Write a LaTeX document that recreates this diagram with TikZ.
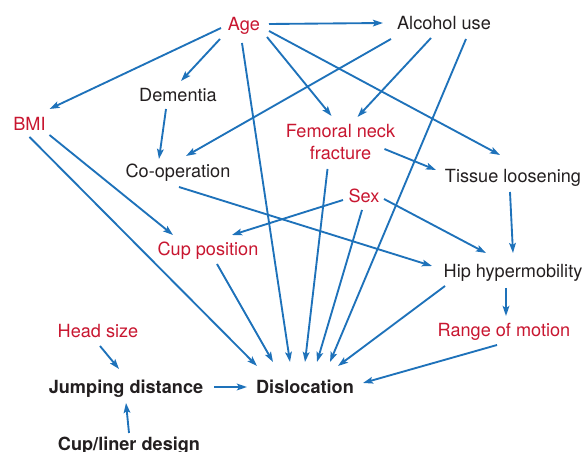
\documentclass[tikz,border=0pt]{standalone}
\usepackage{fontspec}
\setmainfont{TeX Gyre Heros}
\usetikzlibrary{arrows.meta}
\definecolor{dred}{RGB}{200,22,48}
\definecolor{dblue}{RGB}{30,114,186}
\definecolor{dtext}{RGB}{35,31,32}
\begin{document}
\begin{tikzpicture}[x=0.75pt,y=-0.75pt,
  lbl/.style={inner sep=0pt,text height=1em,text depth=0pt,text=dtext,font=\fontsize{13.6}{16.5}\selectfont},
  rlbl/.style={lbl,text=dred},
  blbl/.style={lbl,font=\fontsize{13.6}{16.5}\selectfont\bfseries},
  arr/.style={draw=dblue,line width=1.4pt,-{Stealth[length=7.5pt,width=5pt,inset=1.5pt]}}]
\useasboundingbox (0,0) rectangle (587,452);
\node[rlbl] (age) at (244,24) {Age};
\node[lbl] (alc) at (444,23) {Alcohol use};
\node[lbl] (dem) at (178,95) {Dementia};
\node[rlbl] (bmi) at (29.5,124) {BMI};
\node[inner sep=0pt,text=dred,align=center,font=\fontsize{13.6}{16.5}\selectfont] (fnf) at (340.5,142.5) {Femoral neck\\fracture};
\node[lbl] (coop) at (178,171) {Co-operation};
\node[lbl] (tis) at (513,176) {Tissue loosening};
\node[rlbl] (sex) at (364,196) {Sex};
\node[rlbl] (cup) at (208,249) {Cup position};
\node[lbl] (hip) at (513,271) {Hip hypermobility};
\node[rlbl] (head) at (98,331) {Head size};
\node[rlbl] (rom) at (504,330) {Range of motion};
\node[blbl] (jump) at (126,387) {Jumping distance};
\node[blbl] (disl) at (305,387) {Dislocation};
\node[blbl] (liner) at (129,444) {Cup/liner design};
% Age
\draw[arr] ([shift={(-23,4)}]age.center) -- ([shift={(20,-15)}]bmi.center);
\draw[arr] ([shift={(-24,15)}]age.center) -- ([shift={(3,-14)}]dem.center);
\draw[arr] ([shift={(25,0)}]age.center) -- ([shift={(-61,0)}]alc.center);
\draw[arr] ([shift={(-2,19)}]age.center) -- ([shift={(-15,-25)}]disl.center);
\draw[arr] ([shift={(23,13)}]age.center) -- ([shift={(-9,-26.5)}]fnf.center);
\draw[arr] ([shift={(25,7)}]age.center) -- ([shift={(-13,-21)}]tis.center);
% Alcohol
\draw[arr] ([shift={(-53,16)}]alc.center) -- ([shift={(8,-15)}]coop.center);
\draw[arr] ([shift={(-13,15)}]alc.center) -- ([shift={(17,-25.5)}]fnf.center);
\draw[arr] ([shift={(22,16)}]alc.center) -- ([shift={(25,-25)}]disl.center);
% Dementia
\draw[arr] ([shift={(-12,14)}]dem.center) -- ([shift={(-19,-12)}]coop.center);
% BMI
\draw[arr] ([shift={(20,11)}]bmi.center) -- ([shift={(-35,-14)}]cup.center);
\draw[arr] ([shift={(0,13)}]bmi.center) -- ([shift={(-48,-21)}]disl.center);
% Co-operation
\draw[arr] ([shift={(1,16)}]coop.center) -- ([shift={(-81,-5)}]hip.center);
% Femoral neck fracture
\draw[arr] ([shift={(-13,26.5)}]fnf.center) -- ([shift={(0,-25)}]disl.center);
\draw[arr] ([shift={(44,6.5)}]fnf.center) -- ([shift={(-77,-6)}]tis.center);
% Tissue loosening
\draw[arr] ([shift={(-3,16)}]tis.center) -- ([shift={(0,-18)}]hip.center);
% Sex
\draw[arr] ([shift={(-21,4)}]sex.center) -- ([shift={(24,-14)}]cup.center);
\draw[arr] ([shift={(20,3)}]sex.center) -- ([shift={(-27,-18)}]hip.center);
\draw[arr] ([shift={(-2,14)}]sex.center) -- ([shift={(12,-25)}]disl.center);
% Cup position
\draw[arr] ([shift={(9,15)}]cup.center) -- ([shift={(-32,-25)}]disl.center);
% Hip hypermobility
\draw[arr] ([shift={(-68,15)}]hip.center) -- ([shift={(33,-21)}]disl.center);
\draw[arr] ([shift={(-7,17)}]hip.center) -- ([shift={(2,-14)}]rom.center);
% Head size
\draw[arr] ([shift={(2,15)}]head.center) -- ([shift={(-7,-18)}]jump.center);
% Jumping distance
\draw[arr] ([shift={(88,0)}]jump.center) -- ([shift={(-58,0)}]disl.center);
% Cup/liner design
\draw[arr] ([shift={(0,-11)}]liner.center) -- ([shift={(0,16)}]jump.center);
% Range of motion
\draw[arr] ([shift={(-7,15)}]rom.center) -- ([shift={(58,-4)}]disl.center);
\end{tikzpicture}
\end{document}
